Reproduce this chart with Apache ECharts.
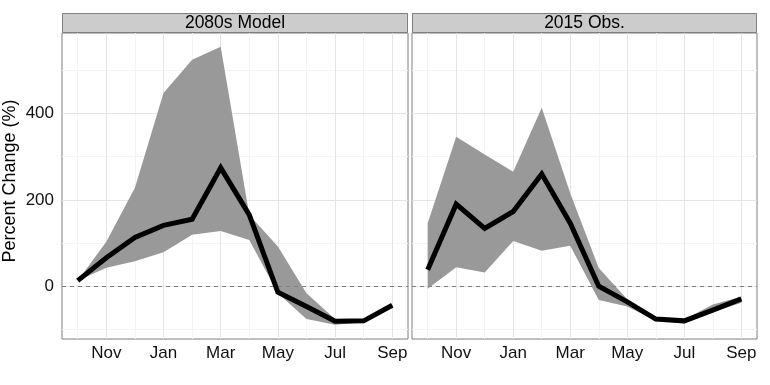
<!DOCTYPE html>
<html>
<head>
<meta charset="utf-8">
<script src="https://cdn.jsdelivr.net/npm/echarts@6/dist/echarts.min.js"></script>
<style>html,body{margin:0;padding:0;background:#fff}#c{width:770px;height:385px}</style>
</head>
<body>
<div id="c"></div>
<script>
// ---- data (month index 0 = Oct ... 11 = Sep) ----
var months = ['Oct','Nov','Dec','Jan','Feb','Mar','Apr','May','Jun','Jul','Aug','Sep'];
var panelTitles = ['2080s Model', '2015 Obs.'];
var modelMean  = [13, 66, 113, 141, 155, 274, 165, -14, -47, -81, -80, -44];
var modelUpper = [13, 103, 228, 447, 524, 554, 165, 92, -16, -76, -77, -42];
var modelLower = [13, 43, 58, 79, 119, 128, 107, -16, -76, -89, -83, -46];
var obsMean  = [38, 190, 134, 173, 260, 146, 0, -36, -76, -80, -55, -29];
var obsUpper = [146, 346, 305, 265, 413, 215, 42, -30, -72, -77, -42, -24];
var obsLower = [-6, 44, 32, 105, 82, 94, -32, -47, -80, -86, -60, -38];
var yTicks = [0, 200, 400];
var yMinor = [-100, 100, 300, 500];
var xTicks = [1, 3, 5, 7, 9, 11];
var xMinor = [0, 2, 4, 6, 8, 10];

var FONT = '"Liberation Sans", Arial, Helvetica, sans-serif';
var GREY50 = '#7f7f7f';

function pairs(arr) { return arr.map(function (v, i) { return [i, v]; }); }

var panels = [
  {mean: modelMean, upper: modelUpper, lower: modelLower},
  {mean: obsMean, upper: obsUpper, lower: obsLower}
];
var grids = [
  {left: 62, top: 33, width: 346, height: 306},
  {left: 412, top: 33, width: 345, height: 306}
];

function ribbonRenderer(upper, lower) {
  return function (params, api) {
    if (params.dataIndex !== 0) return null;
    var pts = [];
    upper.forEach(function (v, i) { pts.push(api.coord([i, v])); });
    for (var i = lower.length - 1; i >= 0; i--) pts.push(api.coord([i, lower[i]]));
    return {
      type: 'polygon',
      shape: {points: pts},
      style: {fill: '#999999', stroke: null}
    };
  };
}

var xAxes = [], yAxes = [], series = [], graphics = [];
panels.forEach(function (p, g) {
  grids[g].show = true;
  grids[g].borderColor = GREY50;
  grids[g].borderWidth = 1;
  grids[g].backgroundColor = '#fff';
  xAxes.push({
    type: 'value', gridIndex: g, min: -0.55, max: 11.55,
    splitLine: {show: false}, axisLine: {show: false},
    axisTick: {show: true, customValues: xTicks, length: 4, lineStyle: {color: GREY50}},
    axisLabel: {show: true, customValues: xTicks, margin: 6, color: '#111', fontSize: 17, fontFamily: FONT,
      formatter: function (v) { return months[Math.round(v)]; }}
  });
  yAxes.push({
    type: 'value', gridIndex: g, min: -122, max: 586,
    splitLine: {show: false}, axisLine: {show: false},
    axisTick: {show: g === 0, customValues: yTicks, length: 4, lineStyle: {color: GREY50}},
    axisLabel: {show: g === 0, customValues: yTicks, margin: 8, color: '#111', fontSize: 17, fontFamily: FONT}
  });
  var gl = [];
  xMinor.forEach(function (v) { gl.push({xAxis: v, lineStyle: {color: '#F4F4F4'}}); });
  yMinor.forEach(function (v) { gl.push({yAxis: v, lineStyle: {color: '#F4F4F4'}}); });
  xTicks.forEach(function (v) { gl.push({xAxis: v, lineStyle: {color: '#E5E5E5'}}); });
  yTicks.forEach(function (v) { gl.push({yAxis: v, lineStyle: {color: '#E5E5E5'}}); });
  // invisible helper carrying the panel grid lines
  series.push({
    type: 'line', xAxisIndex: g, yAxisIndex: g, data: pairs(p.lower),
    symbol: 'none', silent: true, lineStyle: {opacity: 0, width: 0}, z: 1,
    markLine: {silent: true, symbol: ['none', 'none'], label: {show: false}, z: 1, animation: false,
      lineStyle: {type: 'solid', width: 1}, data: gl}
  });
  // ribbon (lower..upper)
  series.push({
    type: 'custom', xAxisIndex: g, yAxisIndex: g, data: [[0, 0]], silent: true, z: 2,
    clip: true,
    renderItem: ribbonRenderer(p.upper, p.lower)
  });
  // mean line + dashed zero reference
  series.push({
    type: 'line', xAxisIndex: g, yAxisIndex: g, data: pairs(p.mean),
    symbol: 'none', silent: true, z: 10,
    lineStyle: {color: '#000', width: 5, join: 'miter', cap: 'butt'},
    markLine: {silent: true, symbol: ['none', 'none'], label: {show: false}, z: 3, animation: false,
      lineStyle: {type: [4, 4], width: 1, color: GREY50}, data: [{yAxis: 0}]}
  });
  var gr = grids[g];
  graphics.push({
    type: 'rect', silent: true,
    shape: {x: gr.left + 0.5, y: 13.5, width: gr.width - 1, height: 19},
    style: {fill: '#CCCCCC', stroke: GREY50, lineWidth: 1}
  });
  graphics.push({
    type: 'text', silent: true, x: gr.left + gr.width / 2, y: 23.5,
    style: {text: panelTitles[g], fill: '#000', font: '17.5px ' + FONT, align: 'center', verticalAlign: 'middle'}
  });
});
graphics.push({
  type: 'text', silent: true, x: 10, y: 181, rotation: Math.PI / 2,
  style: {text: 'Percent Change (%)', fill: '#000', font: '18px ' + FONT, align: 'center', verticalAlign: 'middle'}
});

var chart = echarts.init(document.getElementById('c'), null, {renderer: 'canvas'});
chart.setOption({
  animation: false,
  backgroundColor: '#fff',
  grid: grids,
  xAxis: xAxes,
  yAxis: yAxes,
  series: series,
  graphic: graphics
});
</script>
</body>
</html>
